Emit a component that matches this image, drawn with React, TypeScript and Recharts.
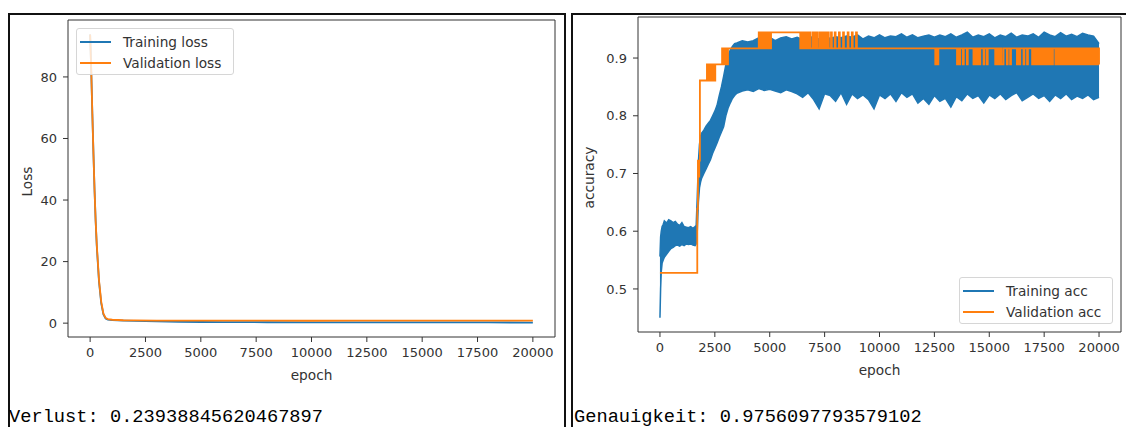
import { ComposedChart, Line, Area, XAxis, YAxis, Legend, ReferenceLine } from 'recharts'

const BLUE = '#1f77b4'
const ORANGE = '#ff7f0e'
const INK = '#333333'
const FONT = '"DejaVu Sans", sans-serif'
const MONO = '"Liberation Mono", "Courier New", monospace'
const LABEL_SIZE = 13.7

// shared epoch axis
const epochDomain = [-1000, 21000]
const epochTicks = [0, 2500, 5000, 7500, 10000, 12500, 15000, 17500, 20000]
const lossDomain = [-4.5, 98.5]
const lossTicks = [0, 20, 40, 60, 80]
const accDomain = [0.4254, 0.9711]
const accTicks = [0.5, 0.6, 0.7, 0.8, 0.9]

// loss curves
const lossEpochs = [0, 50, 100, 150, 200, 250, 300, 400, 500, 600, 700, 800, 1000, 1500, 2000, 3000, 4000, 5000, 6000, 8000, 10000, 12000, 14000, 16000, 18000, 20000]
const trainLoss = [93.8, 82, 68, 55, 43, 33, 25, 13.5, 6.5, 2.8, 1.5, 1.15, 1.0, 0.85, 0.75, 0.6, 0.45, 0.38, 0.33, 0.3, 0.28, 0.26, 0.25, 0.24, 0.22, 0.2]
const valLoss = [93.8, 82, 68, 55, 43, 33, 25.5, 14, 7, 3.1, 1.7, 1.3, 1.1, 0.95, 0.9, 0.85, 0.82, 0.8, 0.85, 0.8, 0.78, 0.8, 0.82, 0.8, 0.8, 0.8]

// training accuracy: noisy band, read as lower / upper envelope
const accEpochs = [
  0, 30, 60, 100, 150, 200, 300, 400, 500, 600,
  700, 800, 900, 1000, 1100, 1200, 1300, 1400, 1500, 1600,
  1650, 1700, 1750, 1800, 1850, 1900, 2000, 2100, 2200, 2300,
  2400, 2500, 2600, 2700, 2800, 2900, 3000, 3100, 3200, 3300,
  3400, 3500, 3750,
  4000, 4250, 4500, 4750, 5000, 5250, 5500, 5750, 6000, 6250,
  6500, 6750, 7000, 7250, 7500, 7750, 8000, 8250, 8500, 8750,
  9000, 9250, 9500, 9750, 10000, 10250, 10500, 10750, 11000, 11250,
  11500, 11750, 12000, 12250, 12500, 12750, 13000, 13250, 13500, 13750,
  14000, 14250, 14500, 14750, 15000, 15250, 15500, 15750, 16000, 16250,
  16500, 16750, 17000, 17250, 17500, 17750, 18000, 18250, 18500, 18750,
  19000, 19250, 19500, 19750, 20000,
]
const trainAccLow = [
  0.450, 0.500, 0.530, 0.545, 0.550, 0.555, 0.560, 0.565, 0.570, 0.572,
  0.575, 0.576, 0.574, 0.577, 0.575, 0.578, 0.577, 0.578, 0.576, 0.575,
  0.578, 0.600, 0.650, 0.675, 0.685, 0.692, 0.700, 0.708, 0.716, 0.724,
  0.735, 0.744, 0.753, 0.763, 0.772, 0.781, 0.800, 0.813, 0.822, 0.830,
  0.835, 0.839, 0.843,
  0.845, 0.842, 0.847, 0.844, 0.846, 0.843, 0.840, 0.845, 0.842, 0.838,
  0.832, 0.840, 0.828, 0.812, 0.838, 0.835, 0.825, 0.840, 0.820, 0.838,
  0.830, 0.836, 0.828, 0.812, 0.836, 0.830, 0.838, 0.825, 0.840, 0.832,
  0.838, 0.822, 0.830, 0.820, 0.835, 0.825, 0.830, 0.815, 0.833, 0.826,
  0.838, 0.830, 0.835, 0.822, 0.836, 0.830, 0.838, 0.828, 0.835, 0.840,
  0.826, 0.832, 0.838, 0.830, 0.835, 0.825, 0.836, 0.830, 0.838, 0.828,
  0.834, 0.830, 0.836, 0.828, 0.832,
]
const trainAccHigh = [
  0.556, 0.590, 0.600, 0.608, 0.612, 0.618, 0.614, 0.620, 0.618, 0.615,
  0.617, 0.612, 0.610, 0.615, 0.608, 0.607, 0.606, 0.608, 0.605, 0.608,
  0.610, 0.660, 0.720, 0.750, 0.765, 0.770, 0.775, 0.782, 0.787, 0.792,
  0.800, 0.808, 0.818, 0.835, 0.850, 0.868, 0.888, 0.903, 0.914, 0.920,
  0.925, 0.926, 0.930,
  0.928, 0.930, 0.935, 0.932, 0.936, 0.930, 0.935, 0.937, 0.933, 0.936,
  0.932, 0.938, 0.935, 0.933, 0.938, 0.934, 0.937, 0.935, 0.938, 0.936,
  0.940, 0.933, 0.938, 0.935, 0.940, 0.935, 0.938, 0.937, 0.942, 0.936,
  0.940, 0.935, 0.938, 0.940, 0.936, 0.940, 0.937, 0.942, 0.936, 0.940,
  0.945, 0.936, 0.940, 0.937, 0.942, 0.935, 0.940, 0.937, 0.943, 0.936,
  0.940, 0.938, 0.942, 0.936, 0.945, 0.940, 0.937, 0.944, 0.938, 0.941,
  0.937, 0.943, 0.940, 0.938, 0.925,
]

// validation accuracy: step changes [epoch, value]
const valAccSteps: [number, number][] = [
  [0, 0.5278], [1700, 0.6389], [1730, 0.7222], [1760, 0.6944], [1790, 0.7222], [1820, 0.8611],
  [2140, 0.8889], [2180, 0.8611], [2230, 0.8889], [2270, 0.8611], [2320, 0.8889], [2370, 0.8611], [2420, 0.8889], [2460, 0.8611], [2520, 0.8889],
  [2830, 0.9167], [2870, 0.8889], [2920, 0.9167], [2960, 0.8889], [3010, 0.9167], [3050, 0.8889], [3100, 0.9167],
  [4500, 0.9444], [4540, 0.9167], [4600, 0.9444], [4650, 0.9167], [4700, 0.9444], [4760, 0.9167], [4820, 0.9444], [4880, 0.9167], [4940, 0.9444], [5000, 0.9167], [5060, 0.9444],
  [6390, 0.9167], [6430, 0.9444], [6480, 0.9167], [6520, 0.9444], [6570, 0.9167], [6610, 0.9444], [6660, 0.9167], [6700, 0.9444], [6750, 0.9167], [6790, 0.9444], [6850, 0.9167],
  [6950, 0.9444], [6990, 0.9167], [7040, 0.9444], [7080, 0.9167], [7130, 0.9444], [7170, 0.9167], [7260, 0.9444], [7300, 0.9167], [7350, 0.9444], [7390, 0.9167],
  [7440, 0.9444], [7480, 0.9167], [7560, 0.9444], [7600, 0.9167], [7650, 0.9444], [7690, 0.9167], [7790, 0.9444], [7830, 0.9167], [7960, 0.9444], [8000, 0.9167],
  [8150, 0.9444], [8190, 0.9167], [8340, 0.9444], [8380, 0.9167], [8550, 0.9444], [8590, 0.9167], [8740, 0.9444], [8780, 0.9167], [8930, 0.9444], [8970, 0.9167],
  [12540, 0.8889], [12580, 0.9167], [12620, 0.8889], [12680, 0.9167],
  [13530, 0.8889], [13570, 0.9167], [13620, 0.8889], [13680, 0.9167], [13800, 0.8889], [13840, 0.9167], [13980, 0.8889], [14020, 0.9167],
  [14280, 0.8889], [14320, 0.9167], [14400, 0.8889], [14440, 0.9167], [14520, 0.8889], [14590, 0.9167], [14740, 0.8889], [14780, 0.9167], [14890, 0.8889], [14930, 0.9167],
  [15270, 0.8889], [15320, 0.9167], [15370, 0.8889], [15420, 0.9167], [15470, 0.8889], [15520, 0.9167], [15560, 0.8889], [15650, 0.9167],
  [15800, 0.8889], [15840, 0.9167], [15950, 0.8889], [15990, 0.9167],
  [16260, 0.8889], [16310, 0.9167], [16350, 0.8889], [16410, 0.9167], [16560, 0.8889], [16600, 0.9167], [16720, 0.8889], [16760, 0.9167],
  [16950, 0.8889], [17000, 0.9167], [17040, 0.8889], [17090, 0.9167], [17130, 0.8889], [17190, 0.9167], [17230, 0.8889], [17280, 0.9167], [17320, 0.8889], [17380, 0.9167],
  [17420, 0.8889], [17470, 0.9167], [17510, 0.8889], [17560, 0.9167], [17600, 0.8889], [17660, 0.9167], [17700, 0.8889], [17780, 0.9167], [17860, 0.8889], [17900, 0.9167],
  [18010, 0.8889], [18060, 0.9167], [18100, 0.8889], [18150, 0.9167], [18200, 0.8889], [18250, 0.9167], [18290, 0.8889], [18340, 0.9167], [18380, 0.8889], [18440, 0.9167],
  [18480, 0.8889], [18530, 0.9167], [18570, 0.8889], [18630, 0.9167], [18670, 0.8889], [18720, 0.9167], [18760, 0.8889], [18820, 0.9167], [18860, 0.8889], [18910, 0.9167],
  [18950, 0.8889], [19010, 0.9167], [19050, 0.8889], [19100, 0.9167], [19140, 0.8889], [19200, 0.9167], [19240, 0.8889], [19290, 0.9167], [19330, 0.8889], [19390, 0.9167],
  [19430, 0.8889], [19480, 0.9167], [19520, 0.8889], [19580, 0.9167], [19620, 0.8889], [19670, 0.9167], [19710, 0.8889], [19770, 0.9167], [19810, 0.8889], [19860, 0.9167],
  [19900, 0.8889], [19950, 0.9167], [20000, 0.8889],
]

const lossName = 'Verlust: 0.23938845620467897'
const accName = 'Genauigkeit: 0.9756097793579102'

const trainLossData = lossEpochs.map((e, i) => ({ epoch: e, v: trainLoss[i] }))
const valLossData = lossEpochs.map((e, i) => ({ epoch: e, v: valLoss[i] }))
const trainAccData = accEpochs.map((e, i) => ({ epoch: e, band: [trainAccLow[i], trainAccHigh[i]] }))
const valAccData = valAccSteps.map(([e, v]) => ({ epoch: e, v }))

const tickStyle = { fill: INK, fontSize: 13, fontFamily: FONT }

function XTitle({ viewBox, text }: any) {
  if (!viewBox) return null
  return (
    <text x={viewBox.x + viewBox.width / 2} y={viewBox.y + 42.5} textAnchor="middle" fill={INK} fontSize={LABEL_SIZE} fontFamily={FONT}>
      {text}
    </text>
  )
}

function YTitle({ viewBox, text, bx }: any) {
  if (!viewBox) return null
  const cy = viewBox.y + viewBox.height / 2 + 3
  return (
    <text x={bx} y={cy} transform={`rotate(-90 ${bx} ${cy})`} textAnchor="middle" fill={INK} fontSize={LABEL_SIZE} fontFamily={FONT}>
      {text}
    </text>
  )
}

function MplLegend({ items, width }: { items: { name: string; color: string }[]; width: number }) {
  return (
    <div style={{ position: 'relative', width, height: 47, boxSizing: 'border-box', border: '1px solid #d6d6d6', borderRadius: 3, background: 'rgba(255,255,255,0.8)' }}>
      {items.map((it, i) => (
        <div key={it.name} style={{ position: 'absolute', left: 3, top: 12.5 + i * 21.8 - 9, height: 18, display: 'flex', alignItems: 'center' }}>
          <span style={{ display: 'inline-block', width: 31, height: 2, background: it.color }} />
          <span style={{ marginLeft: 12, fontFamily: FONT, fontSize: LABEL_SIZE, color: INK, whiteSpace: 'nowrap', lineHeight: '18px' }}>{it.name}</span>
        </div>
      ))}
    </div>
  )
}

export default function App() {
  return (
    <div style={{ position: 'absolute', left: 0, top: 0, width: 1126, height: 427, overflow: 'hidden', background: '#fff' }}>
      <div style={{ position: 'absolute', left: 8, top: 13, width: 558, height: 440, border: '2px solid #111', boxSizing: 'border-box' }} />
      <div style={{ position: 'absolute', left: 571, top: 13, width: 600, height: 440, border: '2px solid #111', boxSizing: 'border-box' }} />

      <div style={{ position: 'absolute', left: 0, top: 0 }}>
        <ComposedChart width={566} height={400} margin={{ top: 20, right: 11, bottom: 0, left: 0 }}>
          <XAxis dataKey="epoch" type="number" domain={epochDomain} ticks={epochTicks} interval={0} height={63}
            tick={tickStyle} tickSize={5} tickMargin={6} tickLine={{ stroke: INK }} axisLine={{ stroke: INK }}
            label={<XTitle text="epoch" />} />
          <YAxis type="number" domain={lossDomain} ticks={lossTicks} interval={0} width={68}
            tick={tickStyle} tickSize={5} tickMargin={6} tickLine={{ stroke: INK }} axisLine={{ stroke: INK }}
            label={<YTitle text="Loss" bx={32} />} />
          <ReferenceLine y={lossDomain[1]} stroke={INK} ifOverflow="visible" />
          <ReferenceLine x={epochDomain[1]} stroke={INK} ifOverflow="visible" />
          <Line data={trainLossData} dataKey="v" name="Training loss" type="linear" stroke={BLUE} strokeWidth={1.8} dot={false} isAnimationActive={false} />
          <Line data={valLossData} dataKey="v" name="Validation loss" type="linear" stroke={ORANGE} strokeWidth={1.8} dot={false} isAnimationActive={false} />
          <Legend layout="vertical" align="center" verticalAlign="middle" wrapperStyle={{ left: 76, top: 28, width: 'auto' }}
            content={() => <MplLegend width={158} items={[{ name: 'Training loss', color: BLUE }, { name: 'Validation loss', color: ORANGE }]} />} />
        </ComposedChart>
      </div>

      <div style={{ position: 'absolute', left: 566, top: 0 }}>
        <ComposedChart width={560} height={400} margin={{ top: 17, right: 5, bottom: 0, left: 0 }}>
          <XAxis dataKey="epoch" type="number" domain={epochDomain} ticks={epochTicks} interval={0} height={68}
            tick={tickStyle} tickSize={5} tickMargin={6} tickLine={{ stroke: INK }} axisLine={{ stroke: INK }}
            label={<XTitle text="epoch" />} />
          <YAxis type="number" domain={accDomain} ticks={accTicks} interval={0} width={72}
            tick={tickStyle} tickSize={5} tickMargin={6} tickLine={{ stroke: INK }} axisLine={{ stroke: INK }}
            label={<YTitle text="accuracy" bx={28} />} />
          <ReferenceLine y={accDomain[1]} stroke={INK} ifOverflow="visible" />
          <ReferenceLine x={epochDomain[1]} stroke={INK} ifOverflow="visible" />
          <Area data={trainAccData} dataKey="band" name="Training acc" type="linear" stroke={BLUE} strokeWidth={1.5} fill={BLUE} fillOpacity={1} dot={false} activeDot={false} isAnimationActive={false} />
          <Line data={valAccData} dataKey="v" name="Validation acc" type="stepAfter" stroke={ORANGE} strokeWidth={1.8} dot={false} isAnimationActive={false} />
          <Legend layout="vertical" align="center" verticalAlign="middle" wrapperStyle={{ left: 393, top: 277, width: 'auto' }}
            content={() => <MplLegend width={154} items={[{ name: 'Training acc', color: BLUE }, { name: 'Validation acc', color: ORANGE }]} />} />
        </ComposedChart>
      </div>

      <div style={{ position: 'absolute', left: 9, top: 407, fontFamily: MONO, fontSize: 18.7, lineHeight: '20px', color: '#000', whiteSpace: 'pre' }}>{lossName}</div>
      <div style={{ position: 'absolute', left: 574, top: 407, fontFamily: MONO, fontSize: 18.7, lineHeight: '20px', color: '#000', whiteSpace: 'pre' }}>{accName}</div>
    </div>
  )
}
